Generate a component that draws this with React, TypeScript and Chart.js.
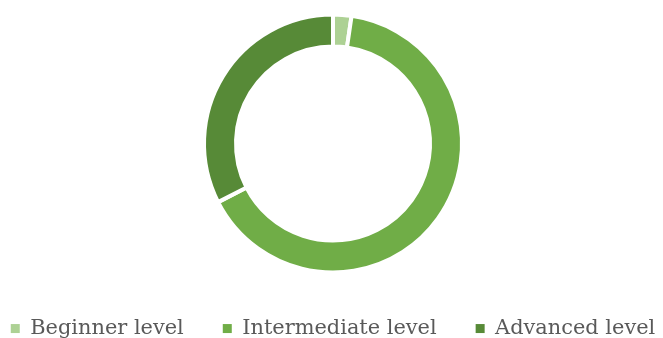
import React, { useEffect, useRef } from 'react';
import { Chart, registerables } from 'chart.js';

Chart.register(...registerables);

const categories = ['Beginner level', 'Intermediate level', 'Advanced level'];
const shares = [2.3, 65.2, 32.5];
const colors = ['#ADD194', '#70AD47', '#578A37'];

export default function App() {
  const ref = useRef<HTMLCanvasElement>(null);

  useEffect(() => {
    const chart = new Chart(ref.current as HTMLCanvasElement, {
      type: 'doughnut',
      data: {
        labels: categories,
        datasets: [
          {
            data: shares,
            backgroundColor: colors,
            borderColor: '#ffffff',
            borderWidth: 4,
            radius: 129,
            cutout: '75.2%',
          } as any,
        ],
      },
      options: {
        responsive: true,
        maintainAspectRatio: false,
        animation: false,
        layout: { padding: { top: 8, bottom: 0, left: 0, right: 0 } },
        plugins: {
          tooltip: { enabled: false },
          legend: {
            position: 'bottom',
            labels: {
              boxWidth: 9,
              boxHeight: 9,
              padding: 39,
              color: '#595959',
              font: { family: '"DejaVu Serif"', size: 20.9 },
              generateLabels: () =>
                categories.map((c, i) => ({
                  text: c,
                  fillStyle: colors[i],
                  strokeStyle: colors[i],
                  lineWidth: 0,
                  hidden: false,
                  index: i,
                  fontColor: '#595959',
                })),
            },
          },
        },
      },
    });
    return () => chart.destroy();
  }, []);

  return (
    <div
      style={{
        position: 'fixed',
        left: 0,
        top: 0,
        width: 663,
        height: 338,
        overflow: 'hidden',
        background: '#ffffff',
      }}
    >
      <div style={{ position: 'absolute', left: -37, top: 0, width: 740, height: 349 }}>
        <canvas ref={ref} />
      </div>
    </div>
  );
}
